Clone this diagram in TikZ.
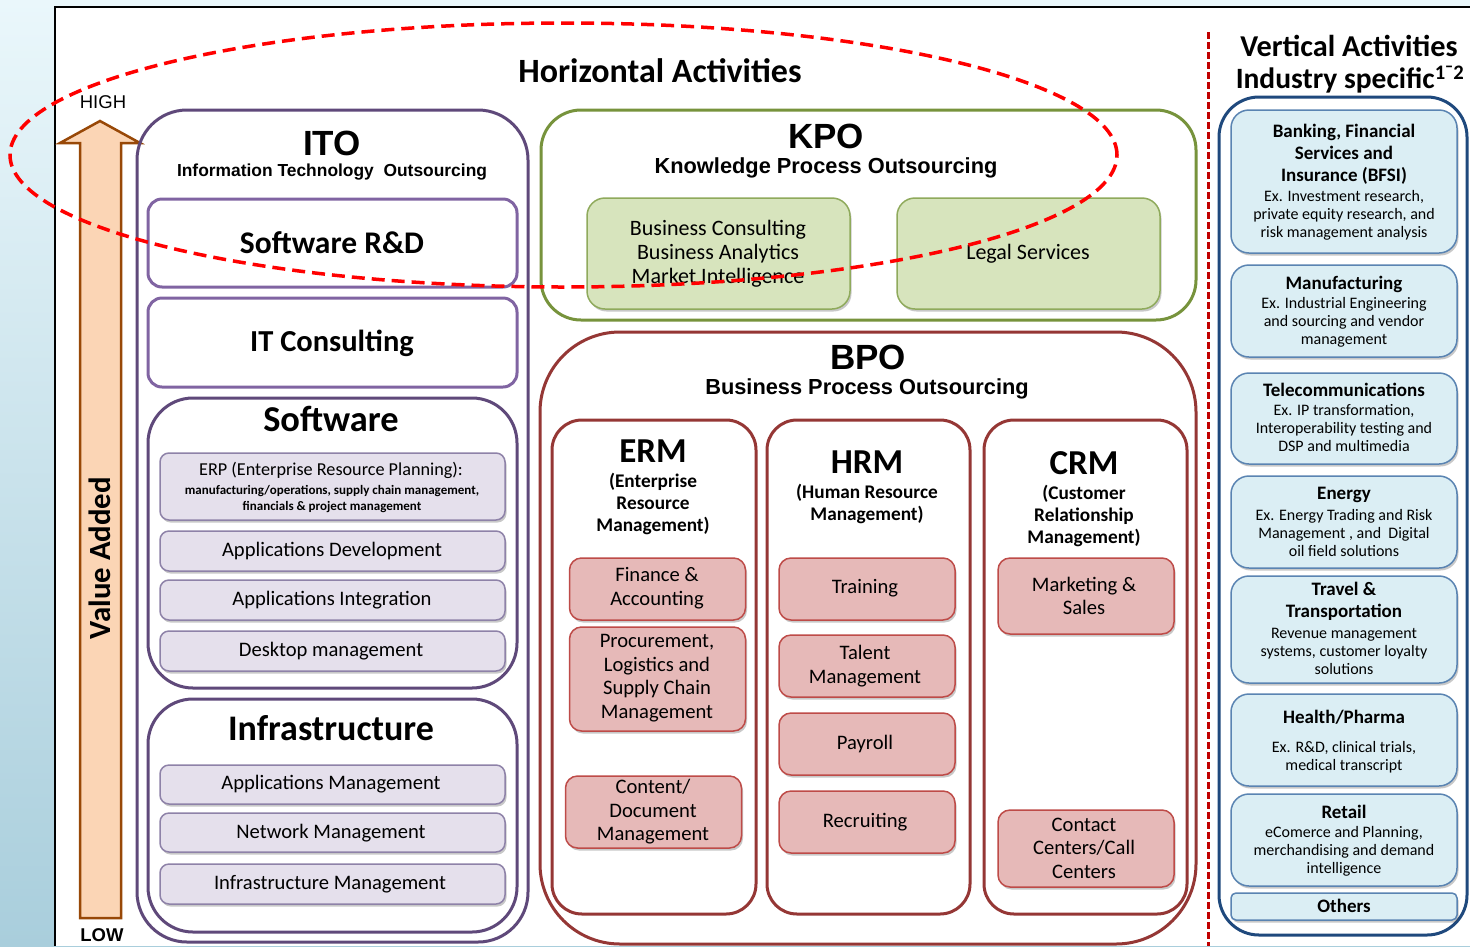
\documentclass[tikz,border=0pt]{standalone}
\usepackage{fontspec}
\setmainfont{Carlito}
\newfontfamily\arialf{Liberation Sans}
\usetikzlibrary{shadows}
\definecolor{itoC}{HTML}{5F497A}
\definecolor{purC}{HTML}{8064A2}
\definecolor{lpFill}{HTML}{E5E0EC}
\definecolor{lpDraw}{HTML}{8E82A8}
\definecolor{kpoC}{HTML}{77933C}
\definecolor{lgFill}{HTML}{D7E4BD}
\definecolor{lgDraw}{HTML}{8FAA5C}
\definecolor{bpoC}{HTML}{953735}
\definecolor{lrFill}{HTML}{E6B9B8}
\definecolor{lrDraw}{HTML}{BE4B48}
\definecolor{vpC}{HTML}{1F497D}
\definecolor{lbFill}{HTML}{DBEEF4}
\definecolor{lbDraw}{HTML}{5A84B2}
\definecolor{arrFill}{HTML}{FBD5B5}
\definecolor{arrDraw}{HTML}{984807}
\definecolor{ellC}{HTML}{FF0000}
\definecolor{vlineC}{HTML}{C00000}
\definecolor{bgTop}{HTML}{EAF7FB}
\definecolor{bgBot}{HTML}{A9CEDC}
\newcommand\myfs[2]{\fontsize{#1}{#2}\selectfont}
\begin{document}
\begin{tikzpicture}[x=1pt,y=-1pt,
  bx/.style={rectangle, inner sep=0pt},
  txt/.style={inner sep=0pt, align=center},
  shad/.style={drop shadow={shadow xshift=1.5pt,shadow yshift=-2.5pt,opacity=0.3,fill=black!70}},
  itobox/.style={bx, draw=itoC, line width=3pt, rounded corners=50pt},
  pbox/.style={bx, draw=purC, line width=3pt, rounded corners=14pt, fill=white},
  grpbox/.style={bx, draw=itoC, line width=3pt, rounded corners=45pt, fill=white},
  lpitem/.style={bx, shad, fill=lpFill, draw=lpDraw, line width=1.5pt, rounded corners=9pt, minimum width=345pt},
  kpobox/.style={bx, draw=kpoC, line width=3pt, rounded corners=40pt},
  lgitem/.style={bx, shad, fill=lgFill, draw=lgDraw, line width=1.5pt, rounded corners=18pt, minimum width=263pt, minimum height=111pt},
  bpobox/.style={bx, draw=bpoC, line width=3pt, rounded corners=80pt},
  colbox/.style={bx, draw=bpoC, line width=3pt, rounded corners=30pt, minimum height=494pt},
  lritem/.style={bx, shad, fill=lrFill, draw=lrDraw, line width=1.5pt, rounded corners=12pt, minimum width=176pt},
  vpbox/.style={bx, draw=vpC, line width=3pt, rounded corners=40pt},
  lbitem/.style={bx, shad, fill=lbFill, draw=lbDraw, line width=1.5pt, rounded corners=18pt, minimum width=226pt},
  itemtxt/.style={txt, font=\myfs{20.6}{24}},
  greentxt/.style={txt, font=\myfs{22}{24}},
  redtxt/.style={txt, font=\myfs{20.6}{23.6}},
  coltitle/.style={txt, font=\myfs{35}{40}\bfseries},
  colsub/.style={txt, font=\myfs{19.3}{22}\bfseries},
  vtitle/.style={txt, font=\myfs{19}{22}\bfseries},
  vdesc/.style={txt, font=\myfs{16}{18}},
  bigtitle/.style={txt, font=\arialf\myfs{35}{40}\bfseries},
  subtitle/.style={txt, font=\arialf\myfs{21.8}{24}\bfseries},
]
\useasboundingbox (0,0) rectangle (1470,946);
% background
\shade[top color=bgTop,bottom color=bgBot] (0,0) rectangle (1470,946);
\fill[white] (55,7) rectangle (1470,946);
\draw[black, line width=2.5pt] (55,946) -- (55,7) -- (1470,7);

% value arrow
\draw[fill=arrFill, draw=arrDraw, line width=2.5pt, line join=miter]
  (80,918) -- (80,143) -- (60,143) -- (100,121) -- (140,143) -- (121,143) -- (121,918) -- cycle;
\node[txt, font=\myfs{30.8}{34}\bfseries, rotate=90] (va) at (100,558) {Value Added};
\node[txt, font=\arialf\myfs{18.5}{20}] (high) at (103,102) {HIGH};
\node[txt, font=\arialf\myfs{18.5}{20}\bfseries] (low) at (102,935) {LOW};

% titles
\node[txt, font=\myfs{34}{38}\bfseries] (htitle) at (660,71) {Horizontal Activities};
\node[txt, font=\myfs{30.3}{34}\bfseries] (vt1) at (1349,46) {Vertical Activities};
\node[txt, font=\myfs{29.5}{32}\bfseries] (vt2) at (1350,80) {Industry specific\textsuperscript{1¯2}};

% ITO
\node[itobox, minimum width=391pt, minimum height=832pt] (ito) at (332.5,526) {};
\node[bigtitle] (itot) at (332,143) {ITO};
\node[txt, font=\arialf\myfs{17.4}{20}\bfseries] (itos) at (332,172) {Information Technology\ \ Outsourcing};
\node[pbox, minimum width=369pt, minimum height=88pt] (srd) at (332.5,243) {};
\node[txt, font=\myfs{31.5}{34}\bfseries] (srdt) at (332,243) {Software R\&D};
\node[pbox, minimum width=369pt, minimum height=89pt] (itc) at (332.5,342.5) {};
\node[txt, font=\myfs{30.5}{34}\bfseries] (itct) at (332,343) {IT Consulting};

\node[grpbox, minimum width=369pt, minimum height=290pt] (swg) at (332.5,543) {};
\node[txt, font=\myfs{36.4}{40}\bfseries] (swgt) at (331,419) {Software};
\node[lpitem, minimum height=67pt] (erp) at (332.5,486.5) {};
\node[txt, font=\myfs{18.2}{20}] (erpt) at (331,470) {ERP (Enterprise Resource Planning):};
\node[txt, font=\myfs{13}{16}\bfseries] (erpd) at (332,499) {manufacturing/operations, supply chain management,\\financials \& project management};
\node[lpitem, minimum height=40pt] (ad) at (332.5,551) {};
\node[itemtxt] (adt) at (332,551) {Applications Development};
\node[lpitem, minimum height=40pt] (ai) at (332.5,600) {};
\node[itemtxt] (ait) at (332,600) {Applications Integration};
\node[lpitem, minimum height=40pt] (dm) at (332.5,651) {};
\node[itemtxt] (dmt) at (331,651) {Desktop management};

\node[grpbox, minimum width=369pt, minimum height=233pt] (infg) at (332.5,815.5) {};
\node[txt, font=\myfs{36}{40}\bfseries] (infgt) at (331,728) {Infrastructure};
\node[lpitem, minimum height=39pt] (am) at (332.5,784.5) {};
\node[itemtxt] (amt) at (331,784) {Applications Management};
\node[lpitem, minimum height=39pt] (nm) at (332.5,832.5) {};
\node[itemtxt] (nmt) at (331,833) {Network Management};
\node[lpitem, minimum height=40pt] (im) at (332.5,884) {};
\node[itemtxt] (imt) at (330,884) {Infrastructure Management};

% KPO
\node[kpobox, minimum width=655pt, minimum height=210pt] (kpo) at (868.5,215) {};
\node[bigtitle] (kpot) at (826,136) {KPO};
\node[subtitle] (kpos) at (826,168) {Knowledge Process Outsourcing};
\node[lgitem] (k1) at (718.5,253.5) {};
\node[greentxt] (k1t) at (718,254) {Business Consulting\\Business Analytics\\Market Intelligence};
\node[lgitem] (k2) at (1028.5,253.5) {};
\node[greentxt] (k2t) at (1028,254) {Legal Services};

% BPO
\node[bpobox, minimum width=656pt, minimum height=612pt] (bpo) at (868,638) {};
\node[bigtitle] (bpot) at (868,357) {BPO};
\node[subtitle] (bpos) at (867,389) {Business Process Outsourcing};

\node[colbox, minimum width=204pt] (erm) at (654,667) {};
\node[coltitle] (ermt) at (653,451) {ERM};
\node[colsub] (erms) at (653,504) {(Enterprise\\Resource\\Management)};
\node[lritem, minimum height=62pt] (fa) at (657.5,589) {};
\node[redtxt] (fat) at (657,588) {Finance \&\\Accounting};
\node[lritem, minimum height=104pt] (pr) at (657.5,679) {};
\node[redtxt] (prt) at (657,678) {Procurement,\\Logistics and\\Supply Chain\\Management};
\node[lritem, minimum height=72pt] (cd) at (653.5,812) {};
\node[redtxt] (cdt) at (653,812) {Content/\\Document\\Management};

\node[colbox, minimum width=203pt] (hrm) at (868.5,667) {};
\node[coltitle] (hrmt) at (867,462) {HRM};
\node[colsub] (hrms) at (867,504) {(Human Resource\\Management)};
\node[lritem, minimum height=62pt] (tr) at (867,589) {};
\node[redtxt] (trt) at (865,588) {Training};
\node[lritem, minimum height=62pt] (tm) at (867,666) {};
\node[redtxt] (tmt) at (865,666) {Talent\\Management};
\node[lritem, minimum height=62pt] (py) at (867,744) {};
\node[redtxt] (pyt) at (865,744) {Payroll};
\node[lritem, minimum height=62pt] (rc) at (867,822) {};
\node[redtxt] (rct) at (865,822) {Recruiting};

\node[colbox, minimum width=203pt] (crm) at (1085.5,667) {};
\node[coltitle] (crmt) at (1084,463) {CRM};
\node[colsub] (crms) at (1084,516) {(Customer\\Relationship\\Management)};
\node[lritem, minimum height=76pt] (ms) at (1086,596) {};
\node[redtxt] (mst) at (1084,596) {Marketing \&\\Sales};
\node[lritem, minimum height=77pt] (cc) at (1086,848.5) {};
\node[redtxt] (cct) at (1084,848) {Contact\\Centers/Call\\Centers};

% vertical separator
\coordinate (vtop) at (1208,32);
\coordinate (vbot) at (1208,946);
\draw[vlineC, line width=3pt, dash pattern=on 7pt off 3pt] (vtop) -- (vbot);

% Vertical panel
\node[vpbox, minimum width=248pt, minimum height=838pt] (vp) at (1343,516) {};
\node[lbitem, minimum height=143pt] (bfsi) at (1344,181.5) {};
\node[vtitle] (bfsit) at (1344,154) {Banking,\ Financial\\Services and\\Insurance (BFSI)};
\node[vdesc] (bfsid) at (1344,215) {Ex. Investment research,\\private equity research, and\\risk management analysis};
\node[lbitem, minimum height=92pt] (mfg) at (1344,311) {};
\node[vtitle] (mfgt) at (1344,284) {Manufacturing};
\node[vdesc] (mfgd) at (1344,322) {Ex. Industrial Engineering\\and sourcing and vendor\\management};
\node[lbitem, minimum height=91pt] (tel) at (1344,418.5) {};
\node[vtitle] (telt) at (1344,390) {Telecommunications};
\node[vdesc] (teld) at (1344,428) {Ex. IP transformation,\\Interoperability testing and\\DSP and multimedia};
\node[lbitem, minimum height=92pt] (eng) at (1344,522) {};
\node[vtitle] (engt) at (1344,495) {Energy};
\node[vdesc] (engd) at (1344,533) {Ex. Energy Trading and Risk\\Management , and\ \ Digital\\oil field solutions};
\node[lbitem, minimum height=107pt] (trv) at (1344,629.5) {};
\node[vtitle] (trvt) at (1344,601) {Travel \&\\Transportation};
\node[vdesc] (trvd) at (1344,651) {Revenue management\\systems, customer loyalty\\solutions};
\node[lbitem, minimum height=92pt] (hp) at (1344,740) {};
\node[vtitle] (hpt) at (1344,717) {Health/Pharma};
\node[vdesc] (hpd) at (1344,757) {Ex. R\&D, clinical trials,\\medical transcript};
\node[lbitem, minimum height=92pt] (ret) at (1344,840) {};
\node[vtitle] (rett) at (1344,812) {Retail};
\node[vdesc] (retd) at (1344,851) {eComerce and Planning,\\merchandising and demand\\intelligence};
\node[lbitem, minimum height=27pt, rounded corners=5pt] (oth) at (1344,906.5) {};
\node[vtitle] (otht) at (1344,906) {Others};

% red dashed ellipse
\draw[ellC, line width=3.5pt, dash pattern=on 13pt off 7pt] (563.5,155) ellipse [x radius=553.5pt, y radius=132pt];
\end{tikzpicture}
\end{document}
